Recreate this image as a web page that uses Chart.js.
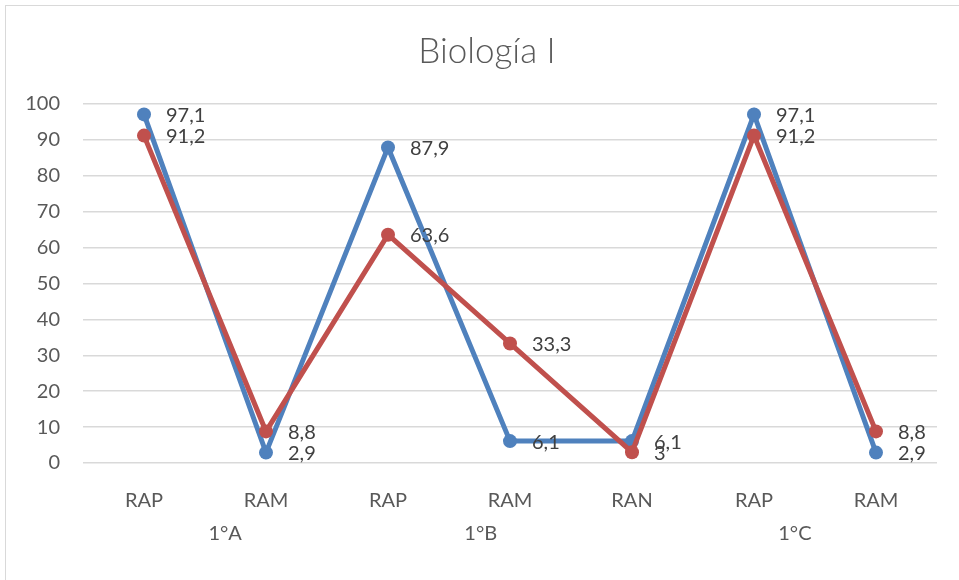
<!DOCTYPE html>
<html>
<head>
<meta charset="utf-8">
<script src="https://cdn.jsdelivr.net/npm/chart.js@4"></script>
<style>
    html, body { margin: 0; padding: 0; background: #fff; }
    #wrap {
        position: relative;
        width: 959px;
        height: 580px;
    }
    #frame {
        position: absolute;
        left: 5px; top: 5px; right: -10px; bottom: -10px;
        border-top: 1px solid #d9d9d9;
        border-left: 1px solid #d9d9d9;
    }
    canvas { position: absolute; left: 0; top: 0; }
</style>
</head>
<body>
<div id="wrap">
    <div id="frame"></div>
    <canvas id="chart" width="959" height="580"></canvas>
</div>
<script>
// Chart data
const categories = ['RAP', 'RAM', 'RAP', 'RAM', 'RAN', 'RAP', 'RAM'];
const groups = ['1°A', '1°B', '1°C'];
const blueValues = [97.1, 2.9, 87.9, 6.1, 6.1, 97.1, 2.9];
const redValues = [91.2, 8.8, 63.6, 33.3, 3, 91.2, 8.8];
const yTicks = [0, 10, 20, 30, 40, 50, 60, 70, 80, 90, 100];

const FONT = 'Lato, "Open Sans", sans-serif';

// where each group label sits, as a fractional category index
const groupLabelAt = [0.665, 2.76, 5.335];

const valueLabels = {
    id: 'valueLabels',
    afterDatasetsDraw(chart) {
        const ctx = chart.ctx;
        ctx.save();
        ctx.font = '20px ' + FONT;
        ctx.fillStyle = '#404040';
        ctx.textAlign = 'left';
        ctx.textBaseline = 'middle';
        chart.data.datasets.forEach((ds, i) => {
            const meta = chart.getDatasetMeta(i);
            meta.data.forEach((pt, j) => {
                const txt = String(ds.data[j]).replace('.', ',');
                ctx.fillText(txt, pt.x + 22, pt.y + 1);
            });
        });
        ctx.restore();
    }
};

const groupLabels = {
    id: 'groupLabels',
    afterDraw(chart) {
        const ctx = chart.ctx;
        const xs = chart.scales.x;
        ctx.save();
        ctx.font = '20px ' + FONT;
        ctx.fillStyle = '#595959';
        ctx.textAlign = 'center';
        ctx.textBaseline = 'middle';
        groups.forEach((g, i) => {
            ctx.fillText(g, xs.getPixelForValue(groupLabelAt[i]), 534);
        });
        ctx.restore();
    }
};

// the title is centred a bit right of the canvas middle in the original
const titleShift = {
    id: 'titleShift',
    afterLayout(chart) {
        if (chart.titleBlock) chart.titleBlock.left += 37;
    }
};

new Chart(document.getElementById('chart'), {
    type: 'line',
    data: {
        labels: categories,
        datasets: [{
            label: 'Serie 1',
            data: blueValues,
            borderColor: '#4f81bd',
            backgroundColor: '#4f81bd',
            borderWidth: 5,
            pointRadius: 7,
            pointBorderWidth: 0,
            tension: 0,
            order: 1
        }, {
            label: 'Serie 2',
            data: redValues,
            borderColor: '#c0504d',
            backgroundColor: '#c0504d',
            borderWidth: 5,
            pointRadius: 7,
            pointBorderWidth: 0,
            tension: 0,
            order: 0
        }]
    },
    options: {
        responsive: false,
        animation: false,
        layout: {
            padding: { left: 0, right: 22, top: 0, bottom: 0 }
        },
        plugins: {
            legend: { display: false },
            tooltip: { enabled: false },
            title: {
                display: true,
                text: 'Biología I',
                color: '#595959',
                font: { family: FONT, size: 35, weight: 300 },
                padding: { top: 31, bottom: 31 }
            }
        },
        scales: {
            x: {
                offset: true,
                grid: { display: false },
                border: { display: false },
                ticks: {
                    color: '#595959',
                    font: { family: FONT, size: 20 },
                    padding: 18,
                    maxRotation: 0,
                    autoSkip: false
                },
                afterFit: s => { s.height = 117; }
            },
            y: {
                min: 0,
                max: 100,
                afterBuildTicks: s => { s.ticks = yTicks.map(v => ({ value: v })); },
                grid: {
                    color: '#d9d9d9',
                    lineWidth: 1.5,
                    drawTicks: false
                },
                border: { display: false },
                ticks: {
                    color: '#595959',
                    font: { family: FONT, size: 20 },
                    padding: 23
                },
                afterFit: s => { s.width = 83; }
            }
        }
    },
    plugins: [valueLabels, groupLabels, titleShift]
});
</script>
</body>
</html>
